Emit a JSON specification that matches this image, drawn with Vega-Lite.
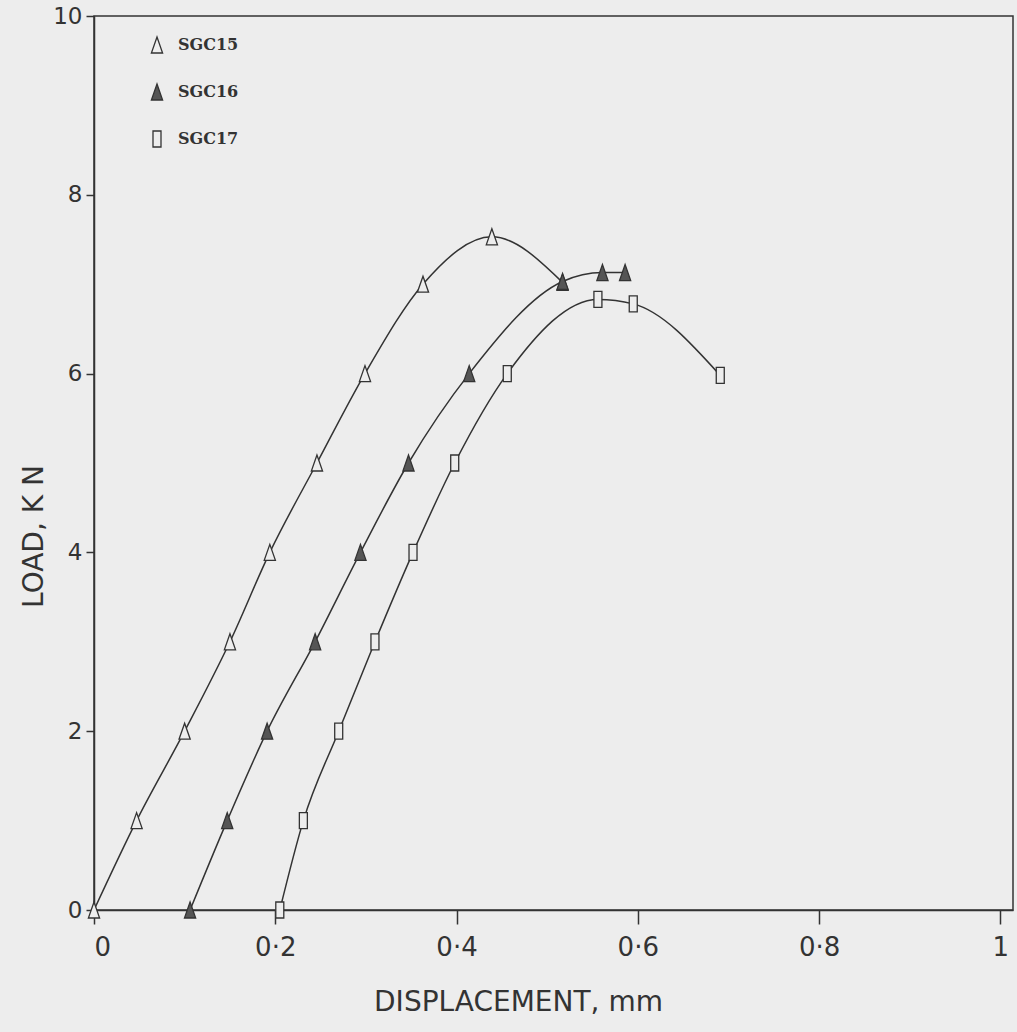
{
  "$schema": "https://vega.github.io/schema/vega-lite/v6.json",
  "width": 919,
  "height": 894,
  "autosize": "none",
  "padding": {"left": 94, "top": 16, "right": 4, "bottom": 122},
  "background": "#ededed",
  "config": {
    "view": {"stroke": "#333", "strokeWidth": 1.5},
    "axis": {
      "domainColor": "#333", "domainWidth": 1.5, "tickColor": "#333", "tickWidth": 1.5,
      "grid": false, "labelFont": "DejaVu Sans", "titleFont": "DejaVu Sans",
      "labelColor": "#333", "titleColor": "#333", "titleFontWeight": "normal"
    }
  },
  "data": {
    "values": [
      {"series": "SGC15", "disp": 0.0, "load": 0},
      {"series": "SGC15", "disp": 0.047, "load": 1},
      {"series": "SGC15", "disp": 0.10, "load": 2},
      {"series": "SGC15", "disp": 0.150, "load": 3},
      {"series": "SGC15", "disp": 0.194, "load": 4},
      {"series": "SGC15", "disp": 0.246, "load": 5},
      {"series": "SGC15", "disp": 0.299, "load": 6},
      {"series": "SGC15", "disp": 0.363, "load": 7},
      {"series": "SGC15", "disp": 0.439, "load": 7.53},
      {"series": "SGC15", "disp": 0.517, "load": 7.02},
      {"series": "SGC16", "disp": 0.106, "load": 0},
      {"series": "SGC16", "disp": 0.147, "load": 1},
      {"series": "SGC16", "disp": 0.191, "load": 2},
      {"series": "SGC16", "disp": 0.244, "load": 3},
      {"series": "SGC16", "disp": 0.294, "load": 4},
      {"series": "SGC16", "disp": 0.347, "load": 5},
      {"series": "SGC16", "disp": 0.414, "load": 6},
      {"series": "SGC16", "disp": 0.517, "load": 7.03},
      {"series": "SGC16", "disp": 0.561, "load": 7.13},
      {"series": "SGC16", "disp": 0.586, "load": 7.13},
      {"series": "SGC17", "disp": 0.205, "load": 0},
      {"series": "SGC17", "disp": 0.231, "load": 1},
      {"series": "SGC17", "disp": 0.270, "load": 2},
      {"series": "SGC17", "disp": 0.310, "load": 3},
      {"series": "SGC17", "disp": 0.352, "load": 4},
      {"series": "SGC17", "disp": 0.398, "load": 5},
      {"series": "SGC17", "disp": 0.456, "load": 6},
      {"series": "SGC17", "disp": 0.556, "load": 6.83},
      {"series": "SGC17", "disp": 0.595, "load": 6.78},
      {"series": "SGC17", "disp": 0.691, "load": 5.98}
    ]
  },
  "encoding": {
    "x": {
      "field": "disp", "type": "quantitative",
      "scale": {"domain": [0, 1.014], "nice": false},
      "axis": {
        "values": [0, 0.2, 0.4, 0.6, 0.8, 1],
        "labelExpr": "replace(format(datum.value, '~g'), '.', '·')",
        "tickSize": 14, "labelPadding": 10, "labelFontSize": 26,
        "title": "DISPLACEMENT, mm", "titleFontSize": 28,
        "titleX": 424, "titleY": 92, "titleBaseline": "middle"
      }
    },
    "y": {
      "field": "load", "type": "quantitative",
      "scale": {"domain": [0, 10], "nice": false},
      "axis": {
        "values": [0, 2, 4, 6, 8, 10],
        "tickSize": 8, "labelPadding": 4, "labelFontSize": 23,
        "title": "LOAD, K N", "titleFontSize": 28,
        "titleAngle": 270, "titleX": -60, "titleY": 520,
        "titleAlign": "center", "titleBaseline": "middle"
      }
    }
  },
  "layer": [
    {
      "mark": {"type": "line", "interpolate": "monotone", "color": "#333", "strokeWidth": 1.5},
      "encoding": {"detail": {"field": "series"}}
    },
    {
      "mark": {"type": "point", "filled": true, "stroke": "#333", "strokeWidth": 1.3, "opacity": 1},
      "encoding": {
        "shape": {
          "field": "series", "type": "nominal",
          "scale": {"domain": ["SGC15", "SGC16", "SGC17"], "range": ["M0,-1L0.7,1L-0.7,1Z", "M0,-1L0.7,1L-0.7,1Z", "M-0.5,-1L0.5,-1L0.5,1L-0.5,1Z"]},
          "legend": {
            "title": null, "orient": "none", "legendX": 54, "legendY": 20,
            "labelFont": "DejaVu Serif", "labelFontWeight": "bold", "labelFontSize": 16,
            "labelColor": "#333", "rowPadding": 25, "labelOffset": 12,
            "symbolStrokeColor": "#333", "symbolStrokeWidth": 1.3,
            "encode": {"symbols": {"update": {"stroke": {"value": "#333"}, "strokeWidth": {"value": 1.3}}}}
          }
        },
        "fill": {
          "field": "series", "type": "nominal",
          "scale": {"domain": ["SGC15", "SGC16", "SGC17"], "range": ["#ededed", "#555555", "#ededed"]}
        },
        "size": {
          "field": "series", "type": "nominal",
          "scale": {"domain": ["SGC15", "SGC16", "SGC17"], "range": [256, 256, 420]}
        }
      }
    }
  ]
}
